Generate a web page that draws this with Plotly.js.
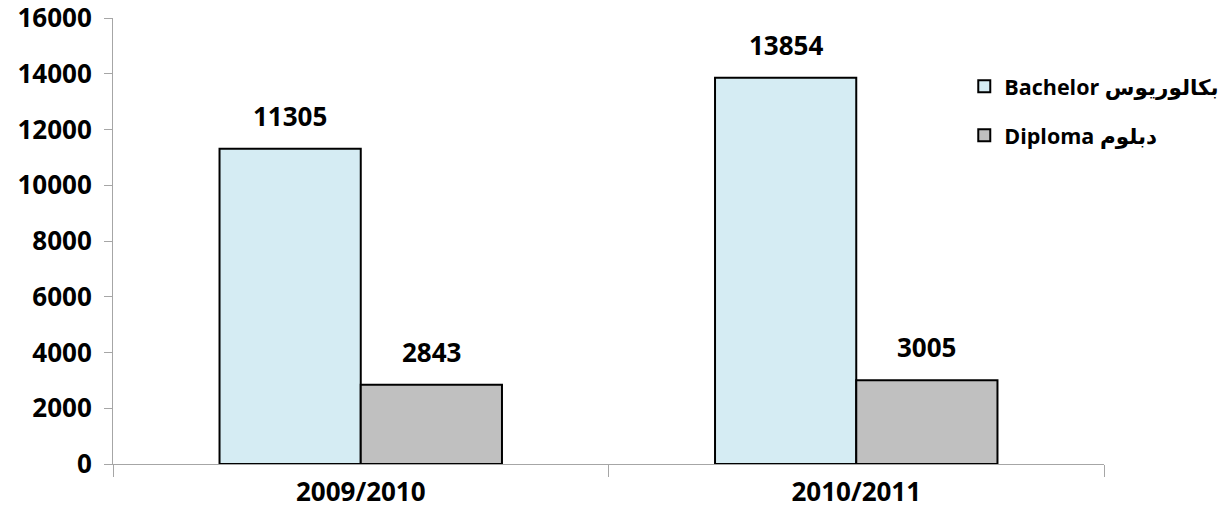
<!DOCTYPE html>
<html>
<head>
<meta charset="utf-8">
<script src="https://cdn.plot.ly/plotly-3.0.1.min.js"></script>
<style>html,body{margin:0;padding:0;background:#fff;}#chart{width:1227px;height:531px;}</style>
</head>
<body>
<div id="chart"></div>
<script>
const categories = ["2009/2010", "2010/2011"];
const bachelorName = "Bachelor بكالوريوس";
const diplomaName = "Diploma دبلوم";
const bachelorValues = [11305, 13854];
const diplomaValues = [2843, 3005];
const yTicks = [0, 2000, 4000, 6000, 8000, 10000, 12000, 14000, 16000];

const FONT = '"Open Sans", "DejaVu Sans", sans-serif';
const W = 1227, H = 531;
const margin = {l: 113, r: 123, t: 18, b: 67, autoexpand: false};
const bargap = 0.43;
const plotW = W - margin.l - margin.r;
const barW = plotW / categories.length * (1 - bargap) / 2;

const traces = [
  {type: 'bar', name: bachelorName, x: categories, y: bachelorValues,
   marker: {color: '#D5ECF3', line: {color: '#000', width: 2}},
   legendgroup: 'a', hoverinfo: 'none'},
  {type: 'bar', name: diplomaName, x: categories, y: diplomaValues,
   marker: {color: '#C0C0C0', line: {color: '#000', width: 2}},
   legendgroup: 'b', hoverinfo: 'none'}
];

const annotations = [];
[bachelorValues, diplomaValues].forEach((vals, si) => {
  vals.forEach((v, i) => {
    annotations.push({
      x: categories[i], y: v, xref: 'x', yref: 'y',
      text: '<b>' + v + '</b>', showarrow: false,
      xshift: (si === 0 ? -1 : 1) * barW / 2, yshift: 13,
      yanchor: 'bottom',
      font: {family: FONT, size: 26, color: '#000'}
    });
  });
});

const layout = {
  width: W, height: H, margin: margin,
  paper_bgcolor: '#fff', plot_bgcolor: '#fff',
  barmode: 'group', bargap: bargap, bargroupgap: 0,
  showlegend: true,
  legend: {x: 0.859, y: 0.893, xanchor: 'left', yanchor: 'top',
           font: {family: FONT, size: 21.5, color: '#000', weight: 'bold'},
           traceorder: 'grouped', tracegroupgap: 18, bgcolor: 'rgba(0,0,0,0)'},
  xaxis: {type: 'category', showgrid: false, zeroline: false,
          showline: true, linecolor: '#A6A6A6', linewidth: 1,
          ticks: 'outside', tickson: 'boundaries', ticklen: 12, tickcolor: '#A6A6A6',
          tickfont: {family: FONT, size: 26, color: '#000', weight: 'bold'}, ticklabelstandoff: 5},
  yaxis: {range: [0, 16000], tickvals: yTicks, ticktext: yTicks.map(String),
          showgrid: false, zeroline: false,
          showline: true, linecolor: '#A6A6A6', linewidth: 1,
          ticks: 'outside', ticklen: 8, tickcolor: '#A6A6A6', ticklabelstandoff: 7,
          ticklabeloverflow: 'allow',
          tickfont: {family: FONT, size: 26, color: '#000', weight: 'bold'}},
  annotations: annotations
};

Plotly.newPlot('chart', traces, layout, {displayModeBar: false, staticPlot: true});
</script>
</body>
</html>
